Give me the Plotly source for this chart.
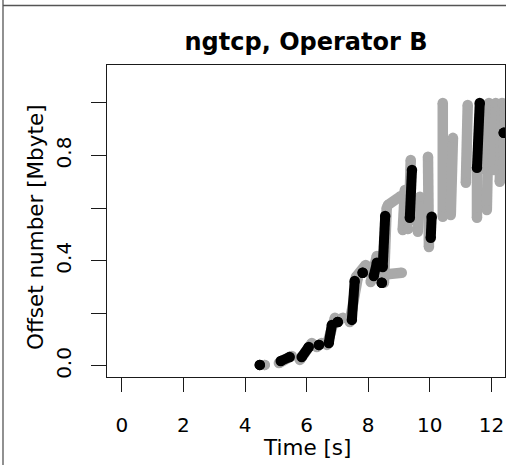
import plotly.graph_objects as go

# ---- data ----
# black series: segments (x0, y0) -> (x1, y1); single dots have equal ends
black_x0 = [4.48, 5.16, 5.84, 6.40, 6.72, 7.01, 7.47, 7.82, 8.18, 8.47, 8.44, 9.35, 10.03, 11.53, 12.40]
black_x1 = [4.48, 5.45, 6.07, 6.40, 6.82, 7.01, 7.56, 7.82, 8.28, 8.55, 8.44, 9.42, 10.06, 11.62, 12.40]
black_y0 = [0.004, 0.019, 0.034, 0.080, 0.087, 0.167, 0.175, 0.354, 0.342, 0.376, 0.316, 0.563, 0.487, 0.753, 0.886]
black_y1 = [0.004, 0.034, 0.072, 0.080, 0.156, 0.167, 0.323, 0.354, 0.392, 0.570, 0.316, 0.745, 0.567, 1.000, 0.886]

# grey series
grey_x0 = [4.64, 5.10, 5.78, 6.33, 6.66, 6.95, 7.40, 7.60, 8.08, 8.38, 8.51, 8.64, 9.12, 9.29, 9.32,
           9.61, 9.97, 10.42, 10.68, 11.17, 11.53, 11.85, 12.08, 12.27, 12.40, 11.70]
grey_x1 = [4.64, 5.52, 6.17, 6.49, 6.92, 7.18, 7.66, 7.92, 8.28, 9.09, 8.60, 9.06, 9.19, 9.29, 9.38,
           9.68, 9.94, 10.42, 10.75, 11.23, 11.53, 11.92, 12.14, 12.34, 12.43, 11.75]
grey_y0 = [0.004, 0.011, 0.023, 0.072, 0.080, 0.167, 0.167, 0.338, 0.319, 0.346, 0.316, 0.612, 0.517, 0.521, 0.548,
           0.510, 0.452, 0.567, 0.574, 0.696, 0.563, 0.593, 0.745, 0.700, 0.783, 0.750]
grey_y1 = [0.004, 0.038, 0.087, 0.087, 0.183, 0.183, 0.335, 0.384, 0.418, 0.354, 0.601, 0.646, 0.669, 0.521, 0.783,
           0.643, 0.795, 1.000, 0.867, 0.992, 0.745, 1.000, 1.000, 1.000, 0.981, 0.990]

x_tick_vals = [0, 2, 4, 6, 8, 10, 12]
x_tick_text = ["0", "2", "4", "6", "8", "10", "12"]
y_tick_vals = [0.0, 0.2, 0.4, 0.6, 0.8, 1.0]
y_tick_text = ["0.0", "", "0.4", "", "0.8", ""]

title_text = "ngtcp, Operator B"
x_title = "Time [s]"
y_title = "Offset number [Mbyte]"

BLACK = "#000000"
GREY = "#A9A9A9"
FONT = "DejaVu Sans"

W, H = 506, 465
ML, MR, MT, MB = 107, 1, 65, 88
PW = W - ML - MR
PH = H - MT - MB


def px_x(px):
    return (px - ML) / PW


def px_y(py):
    return (H - MB - py) / PH


def seg_xy(x0, x1, y0, y1):
    xs, ys = [], []
    for a, b, c, d in zip(x0, x1, y0, y1):
        xs += [a, b, None]
        ys += [c, d, None]
    return xs, ys


fig = go.Figure()
gx, gy = seg_xy(grey_x0, grey_x1, grey_y0, grey_y1)
fig.add_trace(go.Scatter(x=gx, y=gy, mode="lines+markers",
                         line=dict(color=GREY, width=10.5),
                         marker=dict(color=GREY, size=10.5),
                         hoverinfo="skip", showlegend=False))
bx, by = seg_xy(black_x0, black_x1, black_y0, black_y1)
fig.add_trace(go.Scatter(x=bx, y=by, mode="lines+markers",
                         line=dict(color=BLACK, width=10),
                         marker=dict(color=BLACK, size=10.5),
                         hoverinfo="skip", showlegend=False))

axis_common = dict(showgrid=False, zeroline=False, showline=True, linecolor="#1a1a1a",
                   linewidth=1.3, mirror=True, ticks="outside", tickcolor="#1a1a1a",
                   tickwidth=1.3, automargin=False,
                   tickfont=dict(family=FONT, size=20, color="#000"))

fig.update_xaxes(range=[-0.48, 12.44], tickvals=x_tick_vals, ticktext=x_tick_text,
                 ticklen=14, ticklabelstandoff=16, **axis_common)
fig.update_yaxes(range=[-0.042, 1.144], tickvals=y_tick_vals, ticktext=y_tick_text,
                 ticklen=15, tickangle=-90, ticklabelstandoff=12, **axis_common)

fig.update_layout(
    width=W, height=H, autosize=False,
    margin=dict(l=ML, r=MR, t=MT, b=MB, autoexpand=False),
    paper_bgcolor="white", plot_bgcolor="white",
    title=dict(text="<b>" + title_text + "</b>", x=px_x(306), xref="paper", xanchor="center",
               y=1 - 41.6 / H, yref="container", yanchor="middle",
               font=dict(family=FONT, size=24, color="#000")),
    annotations=[
        dict(text=x_title, x=px_x(306.5), y=px_y(447), xref="paper", yref="paper",
             xanchor="center", yanchor="middle", showarrow=False,
             font=dict(family=FONT, size=21.5, color="#000")),
        dict(text=y_title, x=px_x(36), y=px_y(227), xref="paper", yref="paper",
             xanchor="center", yanchor="middle", textangle=-90, showarrow=False,
             font=dict(family=FONT, size=21.5, color="#000")),
    ],
    shapes=[
        dict(type="line", xref="paper", yref="paper", x0=px_x(3), x1=px_x(W),
             y0=px_y(5.5), y1=px_y(5.5), line=dict(color="#555555", width=1.3)),
        dict(type="line", xref="paper", yref="paper", x0=px_x(3), x1=px_x(3),
             y0=px_y(0), y1=px_y(H), line=dict(color="#555555", width=1.3)),
    ],
)

fig.write_html(
    "out.html",
    config={"displayModeBar": False, "responsive": False},
    default_width="506px", default_height="465px",
    post_script=(
        "var st=document.createElement('style');"
        "st.textContent='html,body{margin:0;padding:0;overflow:hidden;}';"
        "document.head.appendChild(st);"
        "document.body.style.margin='0';document.body.style.overflow='hidden';"
    ),
)
